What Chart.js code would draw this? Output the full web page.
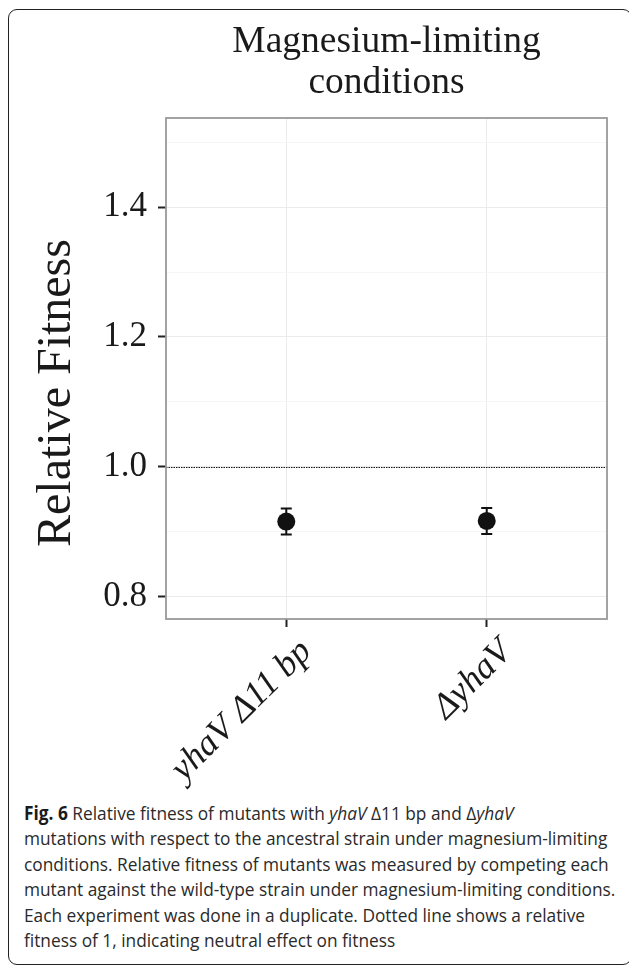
<!DOCTYPE html>
<html><head><meta charset="utf-8">
<script src="https://cdn.jsdelivr.net/npm/chart.js@4.4.1/dist/chart.umd.min.js"></script>
<style>
html,body{margin:0;padding:0;background:#fff;width:629px;height:965px;overflow:hidden;}
#frame{position:absolute;left:8px;top:9px;width:624px;height:956px;box-sizing:border-box;border:1.6px solid #222;border-radius:9px;}
#wrap{position:absolute;left:0;top:0;width:629px;height:800px;}
#caption{position:absolute;left:24px;top:801px;font-family:"Open Sans",sans-serif;font-size:19px;line-height:25.4px;color:#2a2a2a;}
#caption div{white-space:nowrap;transform:scaleX(0.91);transform-origin:0 0;}
#caption b{color:#1a1a1a;}
</style></head>
<body>
<div id="frame"></div>
<div id="wrap"><canvas id="c" width="629" height="800"></canvas></div>
<div id="caption">
<div><b>Fig. 6</b> Relative fitness of mutants with <i>yhaV</i> Δ11 bp and Δ<i>yhaV</i></div>
<div>mutations with respect to the ancestral strain under magnesium-limiting</div>
<div>conditions. Relative fitness of mutants was measured by competing each</div>
<div>mutant against the wild-type strain under magnesium-limiting conditions.</div>
<div>Each experiment was done in a duplicate. Dotted line shows a relative</div>
<div>fitness of 1, indicating neutral effect on fitness</div>
</div>
<script>
// ---- data ----
const categories = ['yhaV Δ11 bp', 'ΔyhaV'];
const fitnessMean = [0.916, 0.917];
const fitnessLow = [0.896, 0.897];
const fitnessHigh = [0.936, 0.937];
const yMajorTicks = [0.8, 1.0, 1.2, 1.4];
const yMinorTicks = [0.9, 1.1, 1.3, 1.5];
const neutralFitness = 1.0;
const titleLines = ['Magnesium-limiting', 'conditions'];
const yTitle = 'Relative Fitness';

const isMajor = v => yMajorTicks.some(m => Math.abs(m - v) < 1e-6);

const decoPlugin = {
  id: 'deco',
  beforeDatasetsDraw(chart) {
    const {ctx, chartArea: ca, scales: {x, y}} = chart;
    ctx.save();
    const yy = y.getPixelForValue(neutralFitness);
    ctx.strokeStyle = '#111';
    ctx.lineWidth = 1;
    ctx.setLineDash([1.5, 1]);
    ctx.beginPath();
    ctx.moveTo(ca.left, Math.round(yy) + 0.5);
    ctx.lineTo(ca.right, Math.round(yy) + 0.5);
    ctx.stroke();
    ctx.setLineDash([]);
    ctx.lineWidth = 2;
    fitnessMean.forEach((m, i) => {
      const px = x.getPixelForValue(i + 1);
      const lo = y.getPixelForValue(fitnessLow[i]);
      const hi = y.getPixelForValue(fitnessHigh[i]);
      ctx.beginPath();
      ctx.moveTo(px, lo); ctx.lineTo(px, hi);
      ctx.moveTo(px - 5.5, lo); ctx.lineTo(px + 5.5, lo);
      ctx.moveTo(px - 5.5, hi); ctx.lineTo(px + 5.5, hi);
      ctx.stroke();
    });
    ctx.restore();
  },
  afterDraw(chart) {
    const {ctx, chartArea: ca} = chart;
    ctx.save();
    ctx.strokeStyle = '#9a9a9a';
    ctx.lineWidth = 1.8;
    ctx.strokeRect(ca.left, ca.top, ca.right - ca.left, ca.bottom - ca.top);
    ctx.fillStyle = '#1a1a1a';
    ctx.font = '37.5px "Liberation Serif"';
    ctx.textAlign = 'center';
    ctx.textBaseline = 'alphabetic';
    const cx = (ca.left + ca.right) / 2;
    ctx.fillText(titleLines[0], cx, 52);
    ctx.fillText(titleLines[1], cx, 93);
    ctx.font = '48px "Liberation Serif"';
    ctx.translate(70, 393);
    ctx.rotate(-Math.PI / 2);
    ctx.fillText(yTitle, 0, 0);
    ctx.restore();
  }
};

new Chart(document.getElementById('c'), {
  type: 'scatter',
  data: {
    datasets: [{
      data: fitnessMean.map((v, i) => ({x: i + 1, y: v})),
      pointRadius: 9,
      pointHoverRadius: 9,
      backgroundColor: '#111',
      borderWidth: 0
    }]
  },
  options: {
    responsive: false,
    animation: false,
    devicePixelRatio: 1,
    layout: {padding: {top: 118, right: 22, left: 0, bottom: 0}},
    plugins: {legend: {display: false}, tooltip: {enabled: false}, title: {display: false}},
    scales: {
      x: {
        type: 'linear', min: 0.4, max: 2.6,
        afterBuildTicks: s => { s.ticks = categories.map((_, i) => ({value: i + 1})); },
        afterFit: s => { s.height = 181; },
        ticks: {
          callback: (v, i) => categories[i],
          autoSkip: false, maxRotation: 45, minRotation: 45,
          font: {family: 'Liberation Serif', style: 'italic', size: 36},
          color: '#1a1a1a', padding: 4, labelOffset: 20
        },
        grid: {color: '#ebebeb', lineWidth: 1, tickColor: '#222', tickLength: 8, tickWidth: 2},
        border: {display: false}
      },
      y: {
        type: 'linear', min: 0.766, max: 1.537,
        afterBuildTicks: s => { s.ticks = [...yMajorTicks, ...yMinorTicks].sort((a, b) => a - b).map(v => ({value: v})); },
        afterFit: s => { s.width = 166; },
        ticks: {
          callback: v => isMajor(v) ? v.toFixed(1) : '',
          font: {family: 'Liberation Serif', size: 35},
          color: '#1a1a1a', padding: 11
        },
        grid: {
          color: c => isMajor(c.tick.value) ? '#ebebeb' : '#f6f6f6',
          lineWidth: 1,
          tickColor: c => isMajor(c.tick.value) ? '#222' : 'rgba(0,0,0,0)',
          tickLength: 8, tickWidth: 2
        },
        border: {display: false}
      }
    }
  },
  plugins: [decoPlugin]
});
</script>
</body></html>
